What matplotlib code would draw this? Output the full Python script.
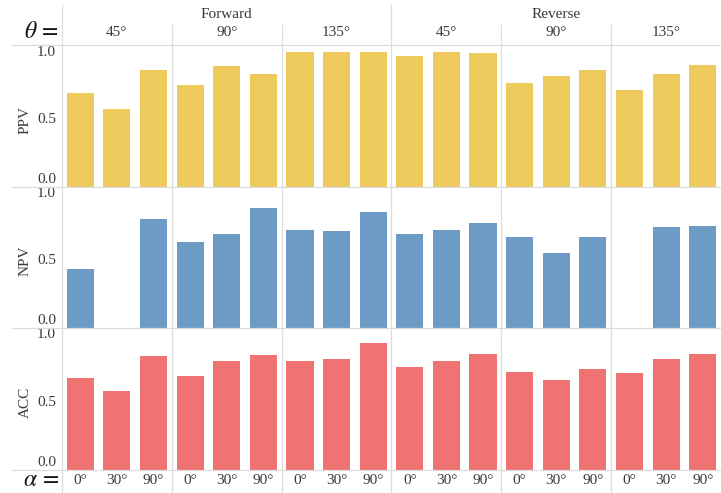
import numpy as np
import matplotlib
matplotlib.use("Agg")
import matplotlib.pyplot as plt
from matplotlib.transforms import blended_transform_factory
from matplotlib.lines import Line2D

directions = ["Forward", "Reverse"]
thetas = ["45°", "90°", "135°"]
alphas = ["0°", "30°", "90°"]
metrics = ["PPV", "NPV", "ACC"]

ppv = [0.70, 0.58, 0.87, 0.755, 0.90, 0.84, 1.00, 1.00, 1.00,
       0.97, 1.00, 0.99, 0.77, 0.82, 0.87, 0.72, 0.84, 0.905]
npv = [0.437, np.nan, 0.805, 0.635, 0.70, 0.887, 0.728, 0.72, 0.857,
       0.694, 0.728, 0.778, 0.672, 0.553, 0.674, np.nan, 0.746, 0.756]
acc = [0.674, 0.578, 0.842, 0.694, 0.80, 0.848, 0.80, 0.815, 0.935,
       0.76, 0.80, 0.855, 0.719, 0.662, 0.741, 0.714, 0.818, 0.855]

values = [ppv, npv, acc]
colors = ["#EEC95C", "#6C9BC6", "#EE7371"]

plt.rcParams['font.family'] = ['Liberation Serif', 'DejaVu Serif']
plt.rcParams['mathtext.fontset'] = 'stix'

W, H = 721, 493
fig = plt.figure(figsize=(W / 100, H / 100), dpi=100)
fig.patch.set_facecolor('white')

gridc = "#DCDCDC"
textc = "#3A3A3A"
left_px, right_px = 62, 721
panel_edges = [46, 187, 328, 470]
n = len(ppv)
x = np.arange(n)

axes = []
for i in range(3):
    top, bot = panel_edges[i], panel_edges[i + 1]
    ax = fig.add_axes([left_px / W, 1 - bot / H, (right_px - left_px) / W, (bot - top) / H])
    ax.bar(x, values[i], width=0.74, color=colors[i], zorder=2)
    ax.set_xlim(-0.5, n - 0.5)
    ax.set_ylim(0, 1.045)
    for s in ax.spines.values():
        s.set_visible(False)
    ax.set_xticks([])
    ax.set_yticks([])
    ax.patch.set_alpha(0)
    tr = blended_transform_factory(fig.transFigure, ax.transData)
    xt = (left_px - 6) / W
    ax.text(xt, 1.0, "1.0", transform=tr, ha='right', va='center', fontsize=11, color=textc)
    ax.text(xt, 0.5, "0.5", transform=tr, ha='right', va='center', fontsize=11, color=textc)
    ax.text(xt, 0.01, "0.0", transform=tr, ha='right', va='bottom', fontsize=11, color=textc)
    ax.text(25 / W, 0.5, metrics[i], transform=tr, ha='center', va='center',
            rotation=90, fontsize=11, color=textc)
    axes.append(ax)

ax0 = axes[0]
trx = blended_transform_factory(ax0.transData, fig.transFigure)

# horizontal separators
for yp in [45, 187, 328, 470]:
    fig.add_artist(Line2D([12 / W, 1], [1 - yp / H, 1 - yp / H], transform=fig.transFigure,
                          color=gridc, lw=0.9))
# vertical separators
for k in range(0, n, 3):
    xv = k - 0.5
    y0 = 1 - 5 / H if k % 9 == 0 else 1 - 25 / H
    fig.add_artist(Line2D([xv, xv], [0, y0], transform=trx, color=gridc, lw=0.9))

# header labels
for d, name in enumerate(directions):
    txt = fig.text(0, 1 - 15 / H, name, transform=trx, ha='center', va='center',
                   fontsize=11, color=textc)
    txt.set_x(d * 9 + 4)
    for t, th in enumerate(thetas):
        txt = fig.text(0, 1 - 33 / H, th, transform=trx, ha='center', va='center',
                       fontsize=11, color=textc)
        txt.set_x(d * 9 + t * 3 + 1)
for k in range(n):
    txt = fig.text(0, 1 - 481 / H, alphas[k % 3], transform=trx, ha='center', va='center',
                   fontsize=11, color=textc)
    txt.set_x(k)

fig.text(41 / W, 1 - 33 / H, r"$\theta\,=$", ha='center', va='center', fontsize=17, color='#111111')
fig.text(41 / W, 1 - 481 / H, r"$\alpha\,=$", ha='center', va='center', fontsize=17, color='#111111')

fig.savefig("out.png", dpi=100, facecolor='white')
